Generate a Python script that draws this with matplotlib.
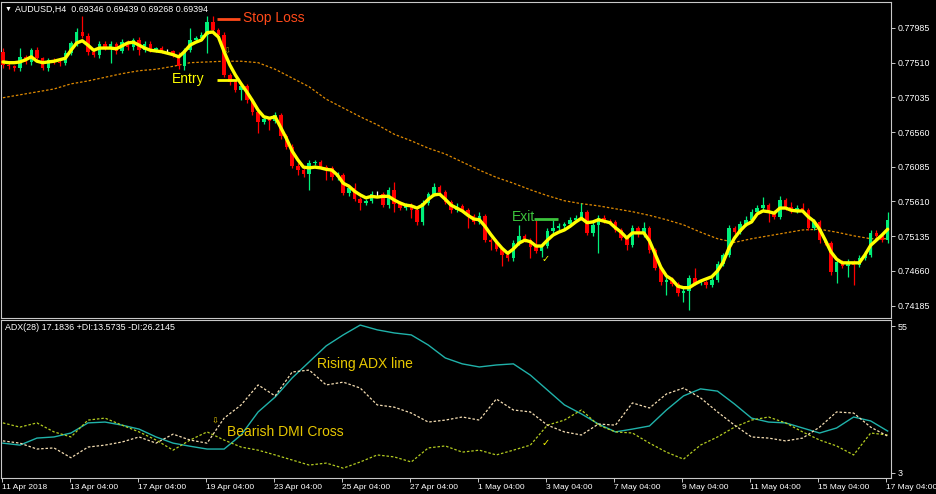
import matplotlib.pyplot as plt
import numpy as np

plt.rcParams['font.family'] = ['Liberation Sans', 'DejaVu Sans']

# AUDUSD H4 candles, prices in 1e-4 units (pips)
first_open = 7766
close_pips = [7748, 7746, 7744, 7759, 7752, 7768, 7757, 7744, 7755, 7752,
              7751, 7764, 7778, 7793, 7788, 7766, 7762, 7777, 7771, 7777,
              7767, 7779, 7772, 7782, 7768, 7777, 7768, 7771, 7767, 7767,
              7762, 7746, 7768, 7782, 7785, 7789, 7807, 7796, 7789, 7734,
              7724, 7714, 7719, 7700, 7683, 7670, 7674, 7671, 7679, 7651,
              7636, 7610, 7604, 7599, 7614, 7615, 7608, 7607, 7594, 7597,
              7573, 7579, 7564, 7559, 7562, 7571, 7571, 7556, 7577, 7558,
              7552, 7556, 7549, 7533, 7559, 7571, 7581, 7574, 7560, 7549,
              7555, 7549, 7541, 7533, 7541, 7508, 7506, 7496, 7488, 7484,
              7504, 7514, 7508, 7499, 7493, 7500, 7521, 7525, 7527, 7530,
              7536, 7538, 7547, 7518, 7529, 7538, 7534, 7533, 7522, 7511,
              7501, 7525, 7516, 7525, 7494, 7470, 7451, 7454, 7448, 7436,
              7438, 7456, 7449, 7451, 7447, 7454, 7475, 7488, 7525, 7519,
              7530, 7536, 7547, 7552, 7556, 7547, 7540, 7563, 7553, 7548,
              7552, 7549, 7525, 7533, 7508, 7504, 7464, 7478, 7473, 7478,
              7474, 7484, 7488, 7518, 7514, 7508, 7536]
# wick length above / below the body, pips
wick_up = [5, 3, 2, 12, 3, 3, 4, 2, 3, 2,
           3, 4, 3, 5, 22, 3, 2, 4, 3, 3,
           2, 4, 3, 3, 4, 3, 3, 2, 3, 3,
           2, 3, 3, 16, 3, 4, 8, 8, 3, 4,
           3, 3, 4, 3, 3, 3, 4, 3, 5, 3,
           3, 3, 3, 3, 4, 3, 3, 3, 3, 4,
           3, 5, 7, 3, 3, 4, 5, 3, 4, 11,
           3, 3, 3, 3, 4, 3, 5, 3, 3, 3,
           4, 3, 3, 3, 5, 3, 3, 3, 3, 3,
           4, 15, 3, 3, 37, 3, 4, 11, 4, 3,
           4, 5, 12, 3, 4, 5, 5, 3, 3, 3,
           3, 4, 3, 8, 3, 3, 3, 3, 3, 3,
           4, 5, 14, 3, 3, 4, 5, 3, 4, 3,
           4, 5, 4, 4, 11, 3, 3, 5, 3, 7,
           4, 7, 3, 4, 3, 3, 3, 4, 3, 4,
           3, 4, 5, 4, 4, 3, 11]
wick_dn = [4, 3, 5, 5, 3, 4, 3, 3, 5, 3,
           4, 3, 3, 4, 3, 4, 3, 4, 3, 20,
           4, 3, 3, 3, 7, 3, 3, 3, 3, 3,
           3, 3, 5, 3, 3, 3, 25, 3, 4, 3,
           4, 3, 14, 4, 3, 15, 3, 12, 3, 4,
           3, 3, 7, 4, 22, 3, 3, 16, 4, 3,
           3, 5, 3, 10, 3, 3, 3, 3, 4, 11,
           3, 3, 11, 4, 4, 3, 3, 3, 3, 4,
           3, 3, 16, 3, 3, 3, 11, 3, 16, 5,
           4, 3, 3, 15, 3, 8, 3, 3, 3, 3,
           3, 3, 3, 3, 4, 38, 3, 3, 3, 3,
           7, 3, 3, 3, 3, 3, 4, 18, 3, 4,
           12, 26, 3, 3, 4, 3, 3, 3, 3, 3,
           3, 3, 3, 3, 3, 14, 3, 3, 3, 3,
           3, 3, 3, 3, 4, 3, 3, 15, 3, 15,
           27, 3, 3, 3, 3, 3, 4]
# yellow smoothed line, one value per bar
signal_pips = [7752, 7751, 7751, 7752, 7755, 7759, 7753, 7751, 7752, 7753,
               7755, 7757, 7768, 7778, 7781, 7775, 7768, 7771, 7771, 7771,
               7770, 7774, 7778, 7779, 7775, 7771, 7768, 7767, 7766, 7764,
               7762, 7759, 7766, 7775, 7779, 7782, 7792, 7793, 7786, 7766,
               7748, 7734, 7722, 7711, 7699, 7686, 7677, 7675, 7677, 7662,
               7647, 7630, 7618, 7608, 7607, 7608, 7607, 7605, 7604, 7597,
               7586, 7582, 7575, 7570, 7566, 7568, 7567, 7568, 7568, 7563,
               7559, 7556, 7555, 7552, 7556, 7564, 7570, 7571, 7564, 7556,
               7552, 7548, 7542, 7537, 7536, 7527, 7516, 7506, 7497, 7490,
               7496, 7504, 7508, 7506, 7500, 7500, 7508, 7515, 7519, 7522,
               7527, 7533, 7538, 7532, 7533, 7536, 7534, 7532, 7525, 7519,
               7511, 7518, 7518, 7518, 7507, 7489, 7471, 7459, 7454, 7445,
               7443, 7443, 7448, 7452, 7455, 7458, 7466, 7478, 7497, 7511,
               7521, 7529, 7533, 7544, 7548, 7547, 7545, 7552, 7552, 7549,
               7548, 7548, 7540, 7534, 7523, 7508, 7492, 7482, 7477, 7477,
               7477, 7477, 7488, 7501, 7508, 7515, 7523]

# slower lines, read every 3rd bar
step = 3
slow_ma_pips = [7703, 7707, 7711, 7715, 7722, 7726, 7731, 7736, 7740, 7742,
                7746, 7751, 7752, 7753, 7753, 7751, 7742, 7730, 7718, 7701,
                7689, 7677, 7666, 7653, 7644, 7634, 7626, 7615, 7604, 7594,
                7586, 7577, 7569, 7562, 7558, 7555, 7551, 7547, 7542, 7536,
                7529, 7519, 7510, 7505, 7510, 7514, 7518, 7522, 7523, 7519,
                7514, 7510, 7510]
adx = [13.5, 12.8, 15.3, 15.7, 17.1, 20.7, 21.0, 19.9, 18.5, 15.7,
       13.5, 12.4, 11.4, 11.4, 16.4, 24.6, 29.9, 36.7, 42.4, 48.1,
       52.0, 55.5, 53.8, 52.7, 52.0, 48.4, 43.8, 41.7, 40.6, 41.3,
       41.7, 37.7, 32.4, 27.1, 23.9, 20.3, 17.5, 18.5, 19.6, 25.3,
       30.3, 32.8, 32.0, 27.4, 22.4, 21.0, 20.7, 18.9, 17.1, 18.9,
       22.8, 21.4, 17.8]
plus_di = [20.7, 19.2, 20.7, 17.5, 15.7, 21.7, 22.4, 19.9, 17.5, 14.6,
           11.0, 14.6, 17.5, 14.6, 12.1, 11.0, 9.3, 7.5, 5.7, 6.4,
           4.6, 6.8, 9.3, 8.6, 6.8, 11.8, 12.5, 10.3, 11.0, 9.3,
           11.0, 12.8, 19.9, 21.7, 25.3, 19.9, 17.5, 17.1, 13.5, 10.3,
           7.8, 12.8, 15.7, 19.2, 21.7, 22.8, 20.7, 17.5, 14.6, 12.5,
           9.3, 17.1, 16.4]
minus_di = [14.3, 13.5, 11.4, 11.8, 8.3, 12.1, 12.8, 13.9, 15.7, 13.5,
            16.7, 14.6, 13.5, 22.4, 27.1, 34.2, 30.3, 38.8, 39.5, 34.2,
            35.2, 33.1, 27.1, 26.3, 24.2, 21.0, 21.7, 22.8, 21.7, 29.2,
            25.3, 24.6, 19.9, 17.5, 16.4, 20.3, 19.9, 27.8, 26.0, 31.0,
            33.1, 29.6, 24.6, 19.9, 15.7, 15.3, 14.3, 15.3, 19.2, 24.6,
            24.2, 19.2, 16.0]

price_ticks = [0.77985, 0.77510, 0.77035, 0.76560, 0.76085,
               0.75610, 0.75135, 0.74660, 0.74185]
adx_ticks = [55, 3]
date_labels = ['11 Apr 2018', '13 Apr 04:00', '17 Apr 04:00', '19 Apr 04:00',
               '23 Apr 04:00', '25 Apr 04:00', '27 Apr 04:00', '1 May 04:00',
               '3 May 04:00', '7 May 04:00', '9 May 04:00', '11 May 04:00',
               '15 May 04:00', '17 May 04:00']
bars_per_label = 12

# trade levels marked on the chart
sl_price, entry_price, exit_price = 0.7811, 0.7727, 0.7537

closes = np.array(close_pips) / 1e4
opens = np.r_[first_open, close_pips[:-1]] / 1e4
highs = np.maximum(opens, closes) + np.array(wick_up) / 1e4
lows = np.minimum(opens, closes) - np.array(wick_dn) / 1e4
x = np.arange(len(closes))
ind_x = np.arange(0, len(closes), step)

cols = np.where(closes > opens, '#00F07A', np.where(closes < opens, '#FF0000', '#FFFFFF'))

bg = 'black'
frame = '#C8C8C8'
fig = plt.figure(figsize=(9.36, 4.94), dpi=100, facecolor=bg)
ax = fig.add_axes([0.001, 0.3563, 0.951, 0.6397], facecolor=bg)
ax2 = fig.add_axes([0.001, 0.0324, 0.951, 0.3198], facecolor=bg)

# main price panel
ax.plot(ind_x, np.array(slow_ma_pips) / 1e4, color='#E08A00', lw=0.9, ls=(0, (2, 1.5)), zorder=1)
ax.vlines(x, lows, highs, colors=cols, lw=0.9, zorder=2)
ax.bar(x, np.maximum(np.abs(closes - opens), 0.00003), bottom=np.minimum(opens, closes),
       width=0.62, color=cols, lw=0, zorder=3)
ax.plot(x, np.array(signal_pips) / 1e4, color='#FFFF00', lw=2.4, solid_capstyle='round', zorder=4)

ax.hlines(sl_price, 37.7, 41.8, color='#FF4A1A', lw=2, zorder=5)
ax.text(42.4, sl_price + 0.0001, 'Stop Loss', color='#FF4A1A', fontsize=10, va='center')
ax.hlines(entry_price, 37.7, 41.3, color='#FFFF00', lw=2, zorder=5)
ax.text(35.6, entry_price + 0.0001, 'Entry', color='#FFFF00', fontsize=10, ha='right', va='center')
ax.hlines(exit_price, 93.6, 97.9, color='#3CC43C', lw=2, zorder=5)
ax.text(89.8, exit_price + 0.0003, 'Exit', color='#3CC43C', fontsize=10, va='center')
ax.text(39.6, 0.7765, '\u21e9', color='#B8A000', fontsize=6, ha='center', va='center', zorder=6)
ax.text(95.6, 0.7482, '\u2713', color='#FFFF00', fontsize=7, ha='center', va='center', zorder=6)

ax.set_xlim(-0.35, 156.6)
ax.set_ylim(0.74015, 0.78341)
ax.yaxis.tick_right()
ax.set_yticks(price_ticks)
ax.set_yticklabels(['%.5f' % p for p in price_ticks])
ax.set_xticks([])

# ADX panel
ax2.plot(ind_x, adx, color='#20B2AA', lw=1)
ax2.plot(ind_x, plus_di, color='#B4CC20', lw=0.9, ls=(0, (2, 1.5)))
ax2.plot(ind_x, minus_di, color='#F5DEB3', lw=0.9, ls=(0, (2, 1.5)))
ax2.text(55.4, 41.7, 'Rising ADX line', color='#E8C800', fontsize=10, va='center')
ax2.text(39.5, 17.6, 'Bearish DMI Cross', color='#E8C800', fontsize=10, va='center')
ax2.text(37.4, 21.0, '\u21e9', color='#E8C800', fontsize=6, ha='center', va='center')
ax2.text(95.6, 13.5, '\u2713', color='#FFFF00', fontsize=7, ha='center', va='center')

ax2.set_xlim(-0.35, 156.6)
ax2.set_ylim(1.1, 57.3)
ax2.yaxis.tick_right()
ax2.set_yticks(adx_ticks)
ax2.set_yticklabels([str(t) for t in adx_ticks])
date_pos = [k * bars_per_label - 0.25 for k in range(len(date_labels))]
ax2.set_xticks(date_pos)
ax2.set_xticklabels(date_labels, ha='left')

for a in (ax, ax2):
    for s in a.spines.values():
        s.set_color(frame)
        s.set_linewidth(0.8)
    a.tick_params(colors=frame, labelcolor='white', length=3, width=0.7, labelsize=6.4, pad=1.5)
ax2.tick_params(axis='x', labelsize=6.0)

fig.text(5 / 936, 1 - 9 / 494, '\u25bc', color='white', fontsize=5, va='center')
fig.text(15 / 936, 1 - 9 / 494, 'AUDUSD,H4  0.69346 0.69439 0.69268 0.69394',
         color='white', fontsize=6.4, va='center')
fig.text(5 / 936, 1 - 327 / 494, 'ADX(28) 17.1836 +DI:13.5735 -DI:26.2145',
         color='white', fontsize=6.4, va='center')

plt.savefig('out.png', dpi=100, facecolor=bg)
